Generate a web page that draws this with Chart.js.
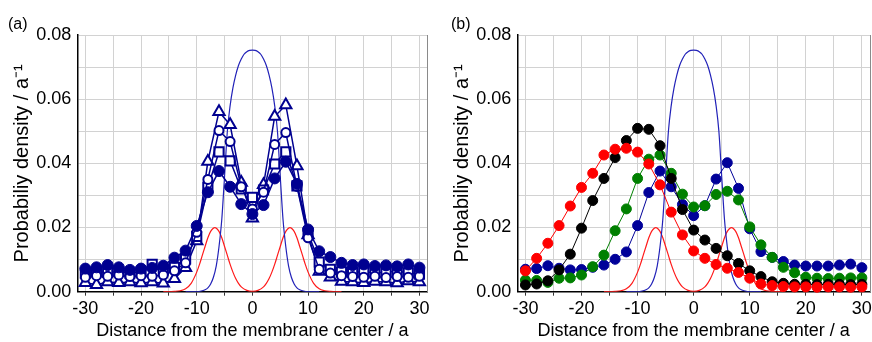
<!DOCTYPE html>
<html>
<head>
<meta charset="utf-8">
<script src="https://cdn.jsdelivr.net/npm/chart.js@4.4.1/dist/chart.umd.min.js"></script>
<style>
  html, body { margin: 0; padding: 0; background: #fff; overflow: hidden; }
  #wrap { position: relative; width: 872px; height: 342px; overflow: hidden; }
  #wrap canvas { position: absolute; top: 0; }
  .tag { position: absolute; font: 16px "Liberation Sans", Arial, sans-serif; line-height: 16px; color: #000; }
</style>
</head>
<body>
<div id="wrap">
  <canvas id="chartA" width="436" height="342" style="left:0"></canvas>
  <canvas id="chartB" width="436" height="342" style="left:440px"></canvas>
  <div class="tag" style="left:8px;top:16px">(a)</div>
  <div class="tag" style="left:451px;top:16px">(b)</div>
</div>
<script>
Chart.defaults.font.family = "'Liberation Sans', Arial, sans-serif";
Chart.defaults.color = "#000";

// distance from membrane center (a), same grid for every simulated series
const distance = [-30,-28,-26,-24,-22,-20,-18,-16,-14,-12,-10,-8,-6,-4,-2,0,2,4,6,8,10,12,14,16,18,20,22,24,26,28,30];

// panel (a)
const filledA = [0.0072,0.0076,0.0083,0.0076,0.0068,0.0072,0.0074,0.0081,0.0106,0.0128,0.0205,0.0310,0.0376,0.0327,0.0273,0.0242,0.0270,0.0353,0.0405,0.0336,0.0194,0.0126,0.0108,0.0090,0.0083,0.0085,0.0080,0.0082,0.0079,0.0085,0.0075];
const circleA = [0.0045,0.0050,0.0048,0.0052,0.0047,0.0050,0.0048,0.0052,0.0065,0.0090,0.0185,0.0350,0.0502,0.0468,0.0327,0.0258,0.0310,0.0459,0.0496,0.0328,0.0168,0.0070,0.0058,0.0050,0.0047,0.0045,0.0048,0.0044,0.0047,0.0045,0.0048];
const squareA = [0.0058,0.0062,0.0060,0.0063,0.0058,0.0062,0.0085,0.0068,0.0076,0.0102,0.0172,0.0325,0.0436,0.0408,0.0320,0.0294,0.0317,0.0398,0.0436,0.0330,0.0182,0.0092,0.0070,0.0062,0.0060,0.0063,0.0058,0.0061,0.0064,0.0059,0.0055];
const triangleA = [0.0028,0.0022,0.0030,0.0028,0.0030,0.0027,0.0030,0.0026,0.0040,0.0075,0.0158,0.0406,0.0561,0.0520,0.0340,0.0229,0.0333,0.0546,0.0582,0.0392,0.0177,0.0063,0.0045,0.0032,0.0030,0.0028,0.0032,0.0030,0.0027,0.0033,0.0030];

// panel (b)
const redB = [0.0065,0.0104,0.0151,0.0206,0.0267,0.0325,0.0369,0.0426,0.0444,0.0447,0.0435,0.0398,0.0333,0.0248,0.0177,0.0127,0.0104,0.0085,0.0073,0.0060,0.0042,0.0024,0.0019,0.0016,0.0015,0.0015,0.0014,0.0015,0.0015,0.0014,0.0015];
const blackB = [0.0021,0.0024,0.0034,0.0068,0.0117,0.0198,0.0284,0.0353,0.0418,0.0471,0.0509,0.0506,0.0455,0.0353,0.0256,0.0192,0.0161,0.0135,0.0112,0.0088,0.0065,0.0047,0.0031,0.0026,0.0023,0.0023,0.0022,0.0023,0.0023,0.0022,0.0023];
const greenB = [0.0036,0.0035,0.0029,0.0042,0.0043,0.0052,0.0078,0.0114,0.0190,0.0258,0.0353,0.0413,0.0426,0.0369,0.0304,0.0264,0.0268,0.0303,0.0313,0.0286,0.0202,0.0146,0.0107,0.0076,0.0059,0.0045,0.0042,0.0041,0.0042,0.0043,0.0043];
const blueB = [0.0070,0.0072,0.0081,0.0073,0.0068,0.0069,0.0076,0.0083,0.0101,0.0124,0.0206,0.0309,0.0376,0.0327,0.0272,0.0237,0.0268,0.0351,0.0402,0.0322,0.0196,0.0125,0.0107,0.0094,0.0083,0.0080,0.0080,0.0080,0.0083,0.0086,0.0075];

// membrane profiles (same in both panels)
const coreX = [-12,-10,-9,-8.5,-8,-7.5,-7,-6.5,-6,-5.5,-5,-4.5,-4,-3.5,-3,-2.5,-2,-1.5,-1,-0.5,0,0.5,1,1.5,2,2.5,3,3.5,4,4.5,5,5.5,6,6.5,7,7.5,8,8.5,9,10,12];
const coreBlue = [0,0,0.0003,0.0006,0.0012,0.0024,0.0045,0.0080,0.0140,0.0225,0.0360,0.0500,0.0580,0.0635,0.0675,0.0705,0.0725,0.0740,0.0748,0.0752,0.0753,0.0752,0.0748,0.0740,0.0725,0.0705,0.0675,0.0635,0.0580,0.0500,0.0360,0.0225,0.0140,0.0080,0.0045,0.0024,0.0012,0.0006,0.0003,0,0];
const headX = [-16,-14,-13,-12,-11,-10,-9.5,-9,-8.5,-8,-7.5,-6.75,-6,-5.5,-5,-4.5,-4,-3.5,-3,-2.5,-2,-1,0,1,2,2.5,3,3.5,4,4.5,5,5.5,6,6.75,7.5,8,8.5,9,9.5,10,11,12,13,14,16];
const headRed = [0,0.0001,0.0003,0.0009,0.0026,0.0061,0.0085,0.0113,0.0141,0.0168,0.0188,0.0200,0.0188,0.0168,0.0141,0.0113,0.0085,0.0061,0.0041,0.0026,0.0015,0.0004,0.0001,0.0004,0.0015,0.0026,0.0041,0.0061,0.0085,0.0113,0.0141,0.0168,0.0188,0.0200,0.0188,0.0168,0.0141,0.0113,0.0085,0.0061,0.0026,0.0009,0.0003,0.0001,0];

const xTickLabels = [-30, -20, -10, 0, 10, 20, 30];
const yTickLabels = ["0.00", "0.02", "0.04", "0.06", "0.08"];

const X_MIN = -31.45, X_MAX = 31.45;

const pts = (xs, ys) => xs.map((x, i) => ({ x: x, y: ys[i] }));

function markers(ys, color, style, fill, radius, bw, lw) {
	return {
		data: pts(distance, ys),
		showLine: true,
		borderColor: color,
		borderWidth: lw,
		pointStyle: style,
		pointRadius: radius,
		pointBorderWidth: bw,
		pointBorderColor: color,
		pointBackgroundColor: fill,
		clip: false,
	};
}

function profiles() {
	return [
		{
			data: pts(coreX, coreBlue),
			showLine: true,
			borderColor: "#2222b8",
			borderWidth: 1.2,
			pointRadius: 0,
			cubicInterpolationMode: "monotone",
		},
		{
			data: pts(headX, headRed),
			showLine: true,
			borderColor: "#ff1a1a",
			borderWidth: 1.2,
			pointRadius: 0,
			cubicInterpolationMode: "monotone",
		},
	];
}

function xLabel(v) {
	const r = Math.round(v);
	return Math.abs(v - r) < 1e-6 && xTickLabels.includes(r) ? String(r) : "";
}

function panelOptions() {
	return {
		responsive: false,
		animation: false,
		events: [],
		layout: { padding: { left: 0, top: 35, right: 3, bottom: 0 } },
		plugins: { legend: { display: false }, tooltip: { enabled: false } },
		scales: {
			x: {
				type: "linear",
				min: X_MIN,
				max: X_MAX,
				afterFit: (s) => { s.height = 50.3; },
				ticks: {
					stepSize: 5,
					includeBounds: false,
					autoSkip: false,
					maxRotation: 0,
					padding: 3,
					font: { size: 18 },
					color: "#000",
					callback: xLabel,
				},
				grid: { color: "#d2d2d2", tickColor: "#333", tickLength: 4 },
				border: { color: "#000", width: 1.5 },
				title: {
					display: true,
					text: "Distance from the membrane center / a",
					font: { size: 18 },
					color: "#000",
					padding: { top: 0, bottom: 0 },
				},
			},
			y: {
				min: 0,
				max: 0.08,
				afterFit: (s) => { s.width = 77.3; },
				ticks: {
					stepSize: 0.01,
					padding: 6,
					font: { size: 18 },
					color: "#000",
					callback: (v) => {
						const k = Math.round(v * 100);
						return k % 2 === 0 ? yTickLabels[k / 2] : "";
					},
				},
				grid: { color: "#d2d2d2", drawTicks: false },
				border: { color: "#000", width: 1.5 },
				title: {
					display: true,
					text: "Probabiliy density / a\u207B\u00B9",
					font: { size: 20 },
					color: "#000",
					padding: { top: 10, bottom: 0 },
				},
			},
			// right frame line only
			yRight: {
				position: "right",
				min: 0,
				max: 0.08,
				afterFit: (s) => { s.width = 0; },
				ticks: { display: false },
				grid: { drawOnChartArea: false, drawTicks: false },
				border: { color: "#8a8a8a", width: 1 },
			},
		},
	};
}

const navy = "#000090";

new Chart(document.getElementById("chartA").getContext("2d"), {
	type: "scatter",
	data: {
		datasets: [
			markers(filledA, navy, "circle", navy, 5.5, 1, 1.5),
			markers(circleA, navy, "circle", "#fff", 4.5, 2, 1.5),
			markers(squareA, navy, "rect", "#fff", 6.5, 2, 1.5),
			markers(triangleA, navy, "triangle", "#fff", 6.5, 2, 1.5),
			...profiles(),
		],
	},
	options: panelOptions(),
});

new Chart(document.getElementById("chartB").getContext("2d"), {
	type: "scatter",
	data: {
		datasets: [
			markers(redB, "#ff0000", "circle", "#ff0000", 5, 1, 1),
			markers(blackB, "#000000", "circle", "#000000", 5, 1, 1),
			markers(greenB, "#008000", "circle", "#008000", 5, 1, 1),
			markers(blueB, "#000099", "circle", "#000099", 5, 1, 1),
			...profiles(),
		],
	},
	options: panelOptions(),
});
</script>
</body>
</html>
